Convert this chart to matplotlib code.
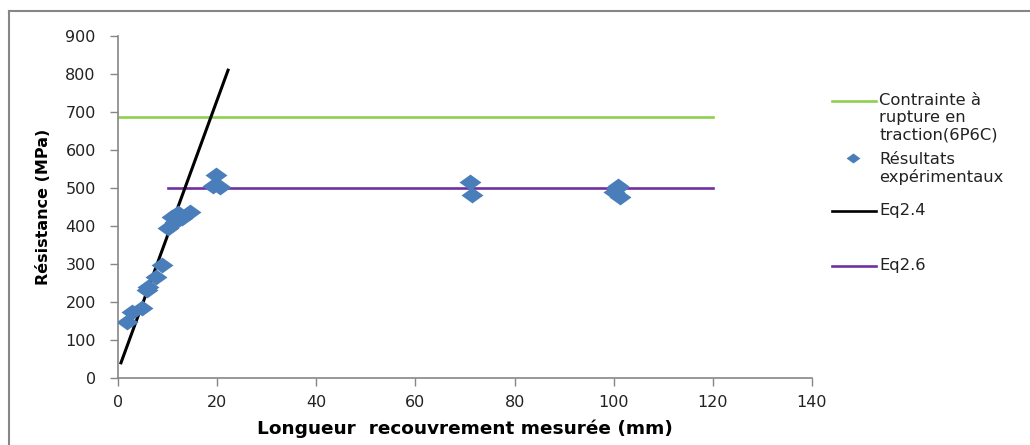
import matplotlib.pyplot as plt
from matplotlib.lines import Line2D

# Experimental results (overlap length in mm, strength in MPa)
exp_x = [1.8, 2.8, 4.8, 5.8, 6.0, 7.7, 8.8, 10.1, 10.8, 11.5, 12.1, 13.0, 14.5,
         19.2, 19.8, 20.6, 71.0, 71.5, 100.0, 100.6, 101.3, 100.8]
exp_y = [148, 175, 183, 232, 240, 267, 298, 394, 425, 410, 433, 420, 438,
         505, 533, 503, 516, 481, 490, 499, 477, 505]

# Tensile strength (6P6C)
green_x = [0, 120]
green_y = [687, 687]

# Eq2.4
eq24_x = [0.6, 22.2]
eq24_y = [40, 810]

# Eq2.6
eq26_x = [10, 120]
eq26_y = [500, 500]

xticks = [0, 20, 40, 60, 80, 100, 120, 140]
yticks = [0, 100, 200, 300, 400, 500, 600, 700, 800, 900]

labels = ["Contrainte à\nrupture en\ntraction(6P6C)", "Résultats\nexpérimentaux", "Eq2.4", "Eq2.6"]
green = "#8ed14f"
blue = "#4a7ebb"
black = "#000000"
purple = "#7030a0"
gray = "#868686"

plt.rcParams['font.family'] = ['DejaVu Sans']

fig = plt.figure(figsize=(10.3, 4.45), dpi=100)
ax = fig.add_axes([118 / 1030, 1 - 378 / 445, (812 - 118) / 1030, (378 - 36) / 445])

diamond = [(0, 0.72), (1, 0), (0, -0.72), (-1, 0), (0, 0.72)]

ax.plot(green_x, green_y, color=green, lw=1.9, zorder=2)
ax.plot(eq26_x, eq26_y, color=purple, lw=1.9, zorder=2)
ax.plot(eq24_x, eq24_y, color=black, lw=2.2, zorder=2)
ax.scatter(exp_x, exp_y, marker=diamond, s=250, color=blue, linewidths=0, zorder=3)

ax.set_xlim(0, 140)
ax.set_ylim(0, 900)
ax.set_xticks(xticks)
ax.set_yticks(yticks)
ax.tick_params(axis='both', direction='out', length=6, color=gray, width=1,
               labelsize=11.5, labelcolor='#222222')
ax.tick_params(axis='y', pad=10)
ax.tick_params(axis='x', pad=6)
for s in ['top', 'right']:
    ax.spines[s].set_visible(False)
for s in ['left', 'bottom']:
    ax.spines[s].set_color(gray)
    ax.spines[s].set_linewidth(1.2)

ax.set_xlabel("Longueur  recouvrement mesurée (mm)", fontsize=13.3, fontweight='bold', labelpad=7)
ax.set_ylabel("Résistance (MPa)", fontsize=11.5, fontweight='bold', labelpad=10)

# Manual legend in Excel style (handle aligned with first text line)
leg_y = [101, 158, 211, 266]
text_shift = [0, 2, 0, 0]
leg_colors = [green, blue, black, purple]
for i, (lab, c, py) in enumerate(zip(labels, leg_colors, leg_y)):
    yf = 1 - py / 445
    if i == 1:
        fig.add_artist(Line2D([853 / 1030], [yf], marker=diamond, markersize=10,
                              color=c, markeredgewidth=0, transform=fig.transFigure))
    else:
        fig.add_artist(Line2D([832 / 1030, 876 / 1030], [yf, yf], color=c, lw=1.9,
                              transform=fig.transFigure))
    fig.text(879 / 1030, yf + (8 - text_shift[i]) / 445, lab, fontsize=11.8, va='top',
             ha='left', linespacing=1.17, color='#222222')

# Chart area border
fig.add_artist(Line2D([9 / 1030, 1.0], [1 - 10.5 / 445, 1 - 10.5 / 445], color=gray, lw=1.5,
                      transform=fig.transFigure))
fig.add_artist(Line2D([9 / 1030, 9 / 1030], [0, 1 - 10.5 / 445], color=gray, lw=1.5,
                      transform=fig.transFigure))

fig.savefig("out.png", dpi=100)
